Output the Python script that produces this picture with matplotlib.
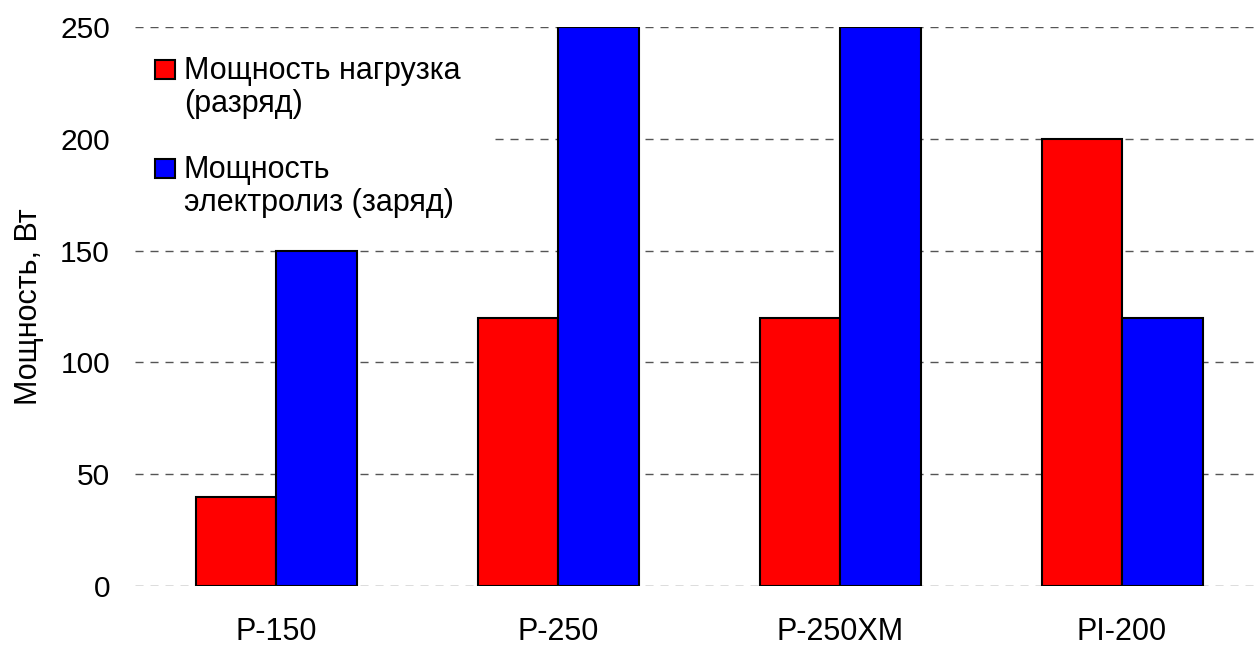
import matplotlib
matplotlib.use("Agg")
import matplotlib.pyplot as plt
from matplotlib.patches import Rectangle
import numpy as np

categories = ["P-150", "P-250", "P-250XM", "PI-200"]
load_power = [40, 120, 120, 200]
electrolysis_power = [150, 250, 250, 120]
series_labels = ["Мощность нагрузка\n(разряд)", "Мощность\nэлектролиз (заряд)"]
series_colors = ['#ff0000', '#0000ff']
yticks = [0, 50, 100, 150, 200, 250]

plt.rcParams['font.family'] = ['Liberation Sans', 'DejaVu Sans']

W, H = 1254, 646
fig = plt.figure(figsize=(W/100, H/100), dpi=100)
ax = fig.add_axes([135/W, 1 - 586/H, (W-135)/W, (586-27)/H])

def fx(px):
    return px / W

def fy(py):
    return 1 - py / H

x = np.arange(len(categories))
w = 80.5/282
ax.bar(x - w/2, load_power, w, color=series_colors[0], edgecolor='black', linewidth=1.5, zorder=3)
ax.bar(x + w/2, electrolysis_power, w, color=series_colors[1], edgecolor='black', linewidth=1.5, zorder=3)

ax.set_xlim(-0.5, -0.5 + (W-135)/282)
ax.set_ylim(0, 250)
ax.set_yticks(yticks)
ax.set_xticks(x)
ax.set_xticklabels(categories)
ax.tick_params(axis='both', length=0)
ax.tick_params(axis='y', pad=18, labelsize=21.5)
ax.tick_params(axis='x', pad=22, labelsize=22)
ax.yaxis.grid(True, linestyle=(0, (5.8, 5)), color='#555555', linewidth=1, zorder=0)
ax.set_axisbelow(True)
for s in ax.spines.values():
    s.set_visible(False)
ax.set_ylabel("Мощность, Вт", fontsize=22, labelpad=12)

# legend (drawn manually so the swatch aligns with first text line)
fig.add_artist(Rectangle((fx(130), fy(240)), fx(494) - fx(130), fy(40) - fy(240),
                         transform=fig.transFigure, facecolor='white', edgecolor='none', zorder=2))
entries = [(series_labels[0], series_colors[0], 79), (series_labels[1], series_colors[1], 178)]
for lab, col, base in entries:
    fig.add_artist(Rectangle((fx(155), fy(base)), fx(175) - fx(155), fy(base - 19) - fy(base),
                             transform=fig.transFigure, facecolor=col, edgecolor='black',
                             linewidth=1.5, zorder=3))
    fig.text(fx(184), fy(base + 33), lab, fontsize=22, va='baseline', ha='left',
             linespacing=1.12, zorder=4)

fig.savefig("out.png", dpi=100)
